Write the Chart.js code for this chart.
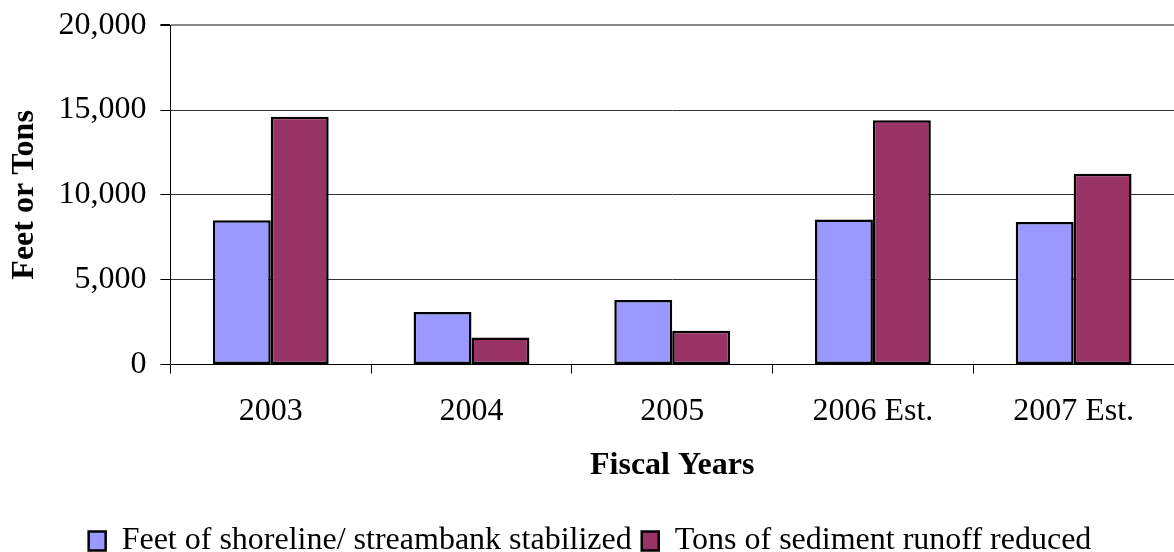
<!DOCTYPE html>
<html>
<head>
<meta charset="utf-8">
<script src="https://cdn.jsdelivr.net/npm/chart.js@4/dist/chart.umd.min.js"></script>
<style>
	html, body { margin: 0; padding: 0; background: #fff; }
	#wrap { width: 1174px; height: 552px; position: relative; }
</style>
</head>
<body>
<div id="wrap"><canvas id="chart"></canvas></div>
<script>
// values
var years = ['2003', '2004', '2005', '2006 Est.', '2007 Est.']
var shorelineFeet = [8500, 3100, 3800, 8550, 8400]
var sedimentTons = [14600, 1600, 2000, 14400, 11250]
var seriesNames = ['Feet of shoreline/ streambank stabilized', 'Tons of sediment runoff reduced']

var serif = '"Liberation Serif", "Times New Roman", serif'

var ctx = document.getElementById('chart')
var chart = new Chart(ctx, {
	type: 'bar',
	data: {
		labels: years,
		datasets: [{
			label: seriesNames[0],
			data: shorelineFeet,
			backgroundColor: '#9999FF',
			borderColor: '#000000',
			borderWidth: 2.5,
			borderSkipped: false
		}, {
			label: seriesNames[1],
			data: sedimentTons,
			backgroundColor: '#993366',
			borderColor: '#000000',
			borderWidth: 2.5,
			borderSkipped: false
		}]
	},
	options: {
		responsive: true,
		maintainAspectRatio: false,
		animation: false,
		categoryPercentage: 0.577,
		barPercentage: 1.0,
		layout: {
			// negative bottom pulls the legend close to the edge
			padding: { top: 0, right: 0, left: 6, bottom: -15 }
		},
		plugins: {
			tooltip: { enabled: false },
			legend: {
				display: true,
				position: 'bottom',
				labels: {
					color: '#000',
					boxWidth: 17,
					boxHeight: 19,
					padding: 10,
					font: { family: serif, size: 32 }
				}
			}
		},
		scales: {
			x: {
				offset: true,
				grid: {
					offset: true,
					drawOnChartArea: false,
					drawTicks: true,
					tickLength: 9,
					color: '#000'
				},
				border: { color: '#000', width: 1 },
				ticks: {
					color: '#000',
					padding: 19,
					font: { family: serif, size: 32 }
				},
				title: {
					display: true,
					text: 'Fiscal Years',
					color: '#000',
					padding: { top: 0, bottom: 33 },
					font: { family: serif, size: 32, weight: 'bold', lineHeight: 1.0 }
				}
			},
			y: {
				min: 0,
				max: 20000,
				ticks: {
					stepSize: 5000,
					color: '#000',
					padding: 14,
					font: { family: serif, size: 32, lineHeight: 0.7 },
					callback: function(v) { return v.toLocaleString('en-US') }
				},
				grid: {
					color: function(c) { return c.tick && c.tick.value === 20000 ? '#888888' : '#333333' },
					lineWidth: function(c) { return c.tick && c.tick.value === 20000 ? 2 : 1 },
					tickLength: 10,
					tickColor: '#000'
				},
				border: { color: '#000', width: 1 },
				title: {
					display: true,
					text: 'Feet or Tons',
					color: '#000',
					padding: { top: 0, bottom: 0 },
					font: { family: serif, size: 32, weight: 'bold' }
				}
			}
		}
	}
})
</script>
</body>
</html>
